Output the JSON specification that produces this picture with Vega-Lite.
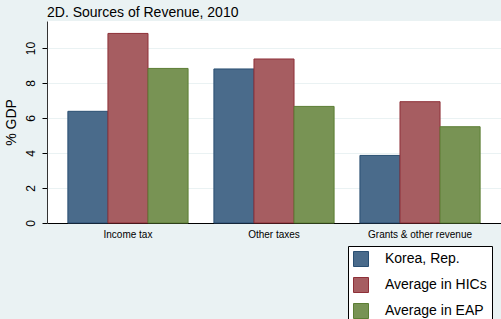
{
  "$schema": "https://vega.github.io/schema/vega-lite/v6.json",
  "autosize": {"type": "none"},
  "width": 454,
  "height": 202,
  "padding": {"left": 47, "top": 21, "right": 0, "bottom": 96},
  "background": "#EAF2F3",
  "title": {"text": "2D. Sources of Revenue, 2010", "anchor": "start", "frame": "group", "offset": 1, "fontSize": 14, "fontWeight": "normal", "font": "Liberation Sans", "color": "#000000"},
  "config": {
    "view": {"fill": "#ffffff", "stroke": null},
    "font": "Liberation Sans"
  },
  "data": {"values": [
    {"source": "Income tax", "series": "Korea, Rep.", "value": 6.38},
    {"source": "Income tax", "series": "Average in HICs", "value": 10.83},
    {"source": "Income tax", "series": "Average in EAP", "value": 8.83},
    {"source": "Other taxes", "series": "Korea, Rep.", "value": 8.80},
    {"source": "Other taxes", "series": "Average in HICs", "value": 9.37},
    {"source": "Other taxes", "series": "Average in EAP", "value": 6.66},
    {"source": "Grants & other revenue", "series": "Korea, Rep.", "value": 3.86},
    {"source": "Grants & other revenue", "series": "Average in HICs", "value": 6.93},
    {"source": "Grants & other revenue", "series": "Average in EAP", "value": 5.50}
  ]},
  "mark": {"type": "bar", "strokeWidth": 1},
  "encoding": {
    "x": {"field": "source", "type": "nominal", "sort": ["Income tax", "Other taxes", "Grants & other revenue"],
      "scale": {"paddingInner": 0.177, "paddingOuter": 0.143},
      "axis": {"title": null, "labelAngle": 0, "labelFontSize": 10, "labelColor": "#000000", "ticks": false, "domainColor": "#000000", "domainWidth": 1, "labelPadding": 6}},
    "xOffset": {"field": "series", "type": "nominal", "sort": ["Korea, Rep.", "Average in HICs", "Average in EAP"], "scale": {"paddingInner": 0, "paddingOuter": 0}},
    "y": {"field": "value", "type": "quantitative",
      "scale": {"domain": [0, 11.54], "nice": false},
      "axis": {"title": "% GDP", "titleFontSize": 14, "titleFontWeight": "normal", "titleColor": "#000000", "titlePadding": 6,
        "values": [0, 2, 4, 6, 8, 10], "labelAngle": 270, "labelFontSize": 12, "labelColor": "#000000", "labelPadding": 5,
        "tickSize": 5, "tickColor": "#000000", "domainColor": "#333333",
        "grid": true, "gridColor": "#EAF2F3", "gridWidth": 1}},
    "fill": {"field": "series", "type": "nominal", "title": null,
      "scale": {"domain": ["Korea, Rep.", "Average in HICs", "Average in EAP"], "range": ["#4A6B8B", "#A65D61", "#789354"]},
      "legend": {"orient": "none", "legendX": 301, "legendY": 225, "direction": "vertical", "fillColor": "#ffffff", "strokeColor": "#000000", "padding": 5,
        "symbolType": "square", "symbolSize": 225, "symbolStrokeWidth": 1, "labelFontSize": 14, "labelColor": "#000000", "labelOffset": 16, "rowPadding": 6}},
    "stroke": {"field": "series", "type": "nominal", "title": null,
      "scale": {"domain": ["Korea, Rep.", "Average in HICs", "Average in EAP"], "range": ["#2A4F72", "#8E3038", "#5C7E34"]}}
  }
}
